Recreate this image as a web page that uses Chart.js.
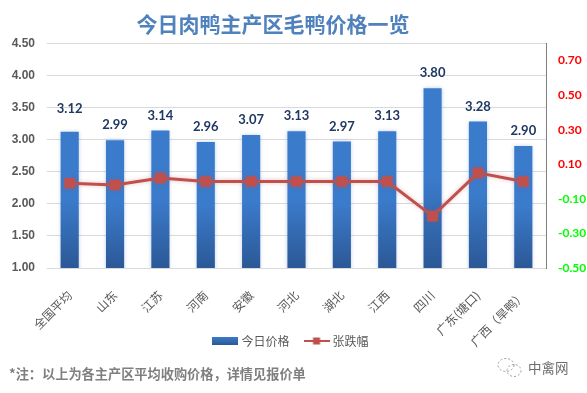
<!DOCTYPE html>
<html>
<head>
<meta charset="utf-8">
<style>
html,body{margin:0;padding:0;background:#fff;overflow:hidden}
#wrap{position:relative;width:587px;height:393px}
canvas{display:block}
#note{position:absolute;left:9px;top:365px;font:bold 13.2px "Noto Sans CJK SC";color:#7f7f7f;line-height:18px;white-space:nowrap}
#mark{position:absolute;left:528px;top:358px;font:13.5px "Noto Sans CJK SC";color:#6e6e6e;line-height:18px;white-space:nowrap}
#icon{position:absolute;left:496px;top:357px}
</style>
</head>
<body>
<div id="wrap">
<canvas id="c" width="587" height="393"></canvas>
<div id="note">*注：以上为各主产区平均收购价格，详情见报价单</div>
<svg id="icon" width="28" height="22" viewBox="0 0 28 22" fill="none" stroke="#9a9a9a" stroke-width="1" stroke-dasharray="2 2">
<ellipse cx="10" cy="8" rx="8" ry="6.5"/><ellipse cx="18" cy="13.5" rx="7" ry="6"/>
</svg>
<div id="mark">中禽网</div>
</div>
<script src="https://cdn.jsdelivr.net/npm/chart.js@4/dist/chart.umd.min.js"></script>
<script>
const categories = ['全国平均','山东','江苏','河南','安徽','河北','湖北','江西','四川','广东(塘口)','广西（旱鸭）'];
const priceToday = [3.12,2.99,3.14,2.96,3.07,3.13,2.97,3.13,3.80,3.28,2.90];
const priceChange = [-0.01,-0.02,0.02,0,0,0,0,0,-0.20,0.05,0];
const leftTicks = [1,1.5,2,2.5,3,3.5,4,4.5];
const rightTicks = [-0.5,-0.3,-0.1,0.1,0.3,0.5,0.7];
const seriesNames = ['今日价格','张跌幅'];
const titleText = '今日肉鸭主产区毛鸭价格一览';

const CJK = '"Noto Sans CJK SC"';
const BAR_TOP = '#3b7bcb', BAR_BOTTOM = '#2b5896', LINE = '#c0504d';

function barSwatch(){
  const c = document.createElement('canvas'); c.width = 26; c.height = 8;
  const x = c.getContext('2d'); const g = x.createLinearGradient(0,0,0,8);
  g.addColorStop(0,BAR_TOP); g.addColorStop(1,BAR_BOTTOM);
  x.fillStyle = g; x.fillRect(0,0,26,8); return c;
}
function lineSwatch(){
  const c = document.createElement('canvas'); c.width = 26; c.height = 8;
  const x = c.getContext('2d'); x.fillStyle = LINE;
  x.fillRect(0,3,26,2); x.fillRect(9.5,0.5,7,7); return c;
}

const valueLabels = {
  id:'valueLabels',
  afterDatasetsDraw(chart){
    const ctx = chart.ctx, meta = chart.getDatasetMeta(1);
    ctx.save();
    ctx.font = 'bold 13px Lato';
    ctx.fillStyle = '#1f3864';
    ctx.textAlign = 'center'; ctx.textBaseline = 'middle';
    meta.data.forEach((bar,i)=>{
      const lift = i === 0 ? 23 : 15;
      ctx.fillText(priceToday[i].toFixed(2), bar.x, bar.y - lift);
    });
    ctx.restore();
  }
};
const softGlow = {
  id:'softGlow',
  beforeDatasetDraw(chart,args){
    const ctx = chart.ctx; ctx.save();
    ctx.shadowBlur = 4;
    ctx.shadowColor = args.meta.type === 'bar' ? 'rgba(80,120,200,0.35)' : 'rgba(192,80,77,0.35)';
  },
  afterDatasetDraw(chart){ chart.ctx.restore(); }
};
const blockShift = {
  id:'blockShift',
  afterLayout(chart){
    const t = chart.titleBlock; t.left -= 25; t.right -= 25;
    const l = chart.legend; l.top -= 34; l.bottom -= 34; l.left -= 6; l.right -= 6;
  }
};

new Chart(document.getElementById('c'),{
  data:{
    labels:categories,
    datasets:[
      {type:'line',label:seriesNames[1],data:priceChange,yAxisID:'yr',order:1,
       borderColor:LINE,backgroundColor:LINE,borderWidth:3,tension:0,
       pointStyle:'rect',pointRadius:7.5,pointBackgroundColor:LINE,pointBorderWidth:0},
      {type:'bar',label:seriesNames[0],data:priceToday,yAxisID:'y',order:2,
       barPercentage:0.4,categoryPercentage:1,
       backgroundColor(ctx){
         const ca = ctx.chart.chartArea; if(!ca) return BAR_TOP;
         const top = ctx.chart.scales.y.getPixelForValue(priceToday[ctx.dataIndex]);
         const g = ctx.chart.ctx.createLinearGradient(0,top,0,ca.bottom);
         g.addColorStop(0,BAR_TOP); g.addColorStop(0.5,BAR_TOP); g.addColorStop(1,BAR_BOTTOM);
         return g;
       }}
    ]
  },
  plugins:[softGlow,valueLabels,blockShift],
  options:{
    responsive:false,animation:false,
    layout:{padding:{left:9,right:0,top:11,bottom:2}},
    plugins:{
      title:{display:true,text:titleText,color:'#4f81bd',
        font:{family:CJK,size:21,weight:'bold'},padding:{top:0,bottom:7}},
      legend:{position:'bottom',
        labels:{usePointStyle:true,pointStyleWidth:20,color:'#595959',padding:17,boxHeight:8,
          font:{family:CJK,size:12},
          generateLabels(){ return [
            {text:seriesNames[0],pointStyle:barSwatch(),fontColor:'#595959',datasetIndex:1},
            {text:seriesNames[1],pointStyle:lineSwatch(),fontColor:'#595959',datasetIndex:0}
          ];}
        }},
      tooltip:{enabled:false}
    },
    scales:{
      x:{offset:true,
        grid:{display:false,drawTicks:false},border:{color:'#d9d9d9'},
        afterFit(s){ s.height = 84; },
        ticks:{autoSkip:false,minRotation:45,maxRotation:45,padding:20,color:'#595959',
          font:{family:CJK,size:12}}},
      y:{position:'left',min:1,max:4.5,
        afterBuildTicks(s){ s.ticks = leftTicks.map(v=>({value:v})); },
        afterFit(s){ s.width = 38; },
        grid:{color:'#d9d9d9',lineWidth:1,drawTicks:false},border:{display:false},
        ticks:{padding:12,color:'#595959',font:{family:'"Liberation Sans"',size:12,weight:'bold'},
          callback:v=>v.toFixed(2)}},
      yr:{position:'right',min:-0.5,max:0.8,
        afterBuildTicks(s){ s.ticks = rightTicks.map(v=>({value:v})); },
        afterFit(s){ s.width = 41; },
        grid:{display:false,drawOnChartArea:false,tickLength:4,tickColor:'#7f7f7f'},
        border:{display:true,color:'#7f7f7f',width:1},
        ticks:{padding:8,font:{family:'Lato',size:12,weight:'bold'},
          color(c){ return c.tick.value < 0 ? '#00ff00' : '#ff0000'; },
          callback:v=>v.toFixed(2)}}
    }
  }
});
</script>
</body>
</html>
